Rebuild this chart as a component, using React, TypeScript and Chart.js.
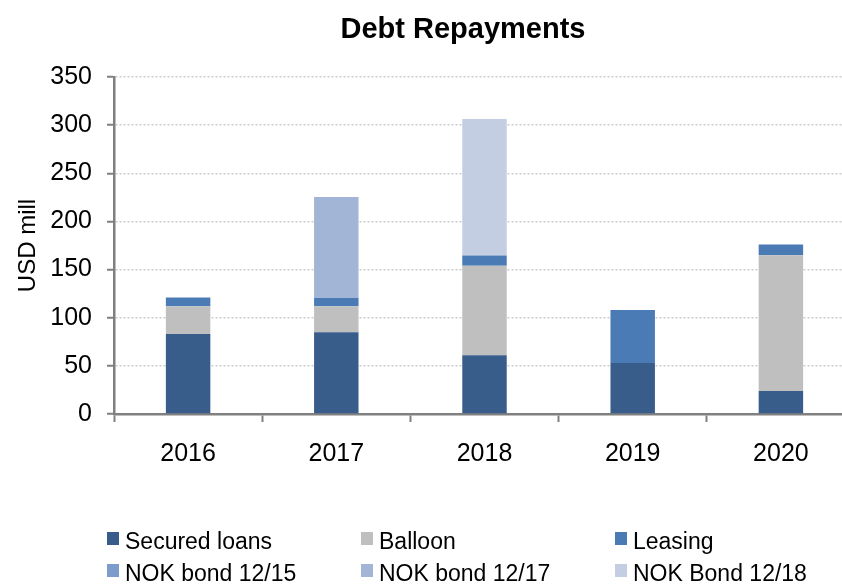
import React, { useEffect, useRef } from "react";
import { Chart, registerables } from "chart.js";

Chart.register(...registerables);

const titleText = "Debt Repayments";
const yAxisTitle = "USD mill";
const categories = ["2016", "2017", "2018", "2019", "2020"];
const seriesLabels = ["Secured loans", "Balloon", "Leasing", "NOK bond 12/15", "NOK bond 12/17", "NOK Bond 12/18"];
const seriesColors = ["#385D8A", "#BFBFBF", "#4A7BB5", "#7C9CCB", "#A2B5D6", "#C3CEE2"];
const securedLoans = [83, 85, 61, 53, 24];
const balloon = [29, 27, 93, 0, 141];
const leasing = [9, 8.5, 10.5, 55, 11];
const nokBond1215 = [0, 0, 0, 0, 0];
const nokBond1217 = [0, 105, 0, 0, 0];
const nokBond1218 = [0, 0, 142, 0, 0];
const yMin = 0;
const yMax = 350;
const yStep = 50;

const FONT = '"Liberation Sans", Arial, sans-serif';

const overlayPlugin = {
  id: "overlay",
  afterDraw(chart: any) {
    const ctx = chart.ctx;
    ctx.save();
    ctx.fillStyle = "#000";
    ctx.font = `bold 29px ${FONT}`;
    ctx.textAlign = "center";
    ctx.textBaseline = "alphabetic";
    ctx.fillText(titleText, 463, 38);
    ctx.font = `23px ${FONT}`;
    ctx.textAlign = "left";
    chart.data.datasets.forEach((ds: any, i: number) => {
      const col = i % 3;
      const row = Math.floor(i / 3);
      const bx = 107 + col * 254;
      const base = 549 + row * 32;
      ctx.fillStyle = ds.backgroundColor;
      ctx.fillRect(bx, base - 17, 12, 13);
      ctx.fillStyle = "#000";
      ctx.fillText(ds.label, bx + 18, base);
    });
    ctx.restore();
  },
};

export default function App() {
  const ref = useRef<HTMLCanvasElement | null>(null);

  useEffect(() => {
    if (!ref.current) return;
    const values = [securedLoans, balloon, leasing, nokBond1215, nokBond1217, nokBond1218];
    const chart = new Chart(ref.current, {
      type: "bar",
      data: {
        labels: categories,
        datasets: values.map((v, i) => ({
          label: seriesLabels[i],
          data: v,
          backgroundColor: seriesColors[i],
          borderWidth: 0,
          categoryPercentage: 1,
          barPercentage: 0.3,
        })),
      },
      options: {
        responsive: false,
        animation: false,
        layout: { padding: { top: 77, bottom: 110, left: 0, right: 1 } },
        plugins: {
          legend: { display: false },
          title: { display: false },
          tooltip: { enabled: false },
        },
        scales: {
          x: {
            stacked: true,
            afterFit: (s: any) => {
              s.height = 60;
            },
            grid: {
              offset: true,
              drawOnChartArea: false,
              drawTicks: true,
              tickLength: 8,
              tickColor: "#808080",
              tickWidth: 2,
              tickBorderDash: [],
            },
            border: { display: true, color: "#808080", width: 2.5 },
            ticks: {
              color: "#000",
              padding: 17,
              font: { family: FONT, size: 25 },
            },
          },
          y: {
            stacked: true,
            min: yMin,
            max: yMax,
            afterFit: (s: any) => {
              s.width = 114;
            },
            grid: {
              color: (c: any) => (c.tick && c.tick.value === 0 ? "rgba(0,0,0,0)" : "#cccccc"),
              lineWidth: 1.5,
              drawTicks: true,
              tickLength: 7,
              tickColor: "#808080",
              tickWidth: 2,
              tickBorderDash: [],
            },
            border: { display: true, color: "#808080", width: 2.5, dash: [2, 2] },
            ticks: {
              stepSize: yStep,
              color: "#000",
              padding: 15,
              font: { family: FONT, size: 25 },
            },
            title: {
              display: true,
              text: yAxisTitle,
              color: "#000",
              padding: { top: 14, bottom: 0 },
              font: { family: FONT, size: 24 },
            },
          },
        },
      },
      plugins: [overlayPlugin],
    });
    return () => chart.destroy();
  }, []);

  return (
    <div
      style={{
        position: "fixed",
        left: 0,
        top: 0,
        width: 842,
        height: 584,
        overflow: "hidden",
        background: "#fff",
      }}
    >
      <canvas ref={ref} width={856} height={584} style={{ display: "block", width: 856, height: 584 }} />
    </div>
  );
}
